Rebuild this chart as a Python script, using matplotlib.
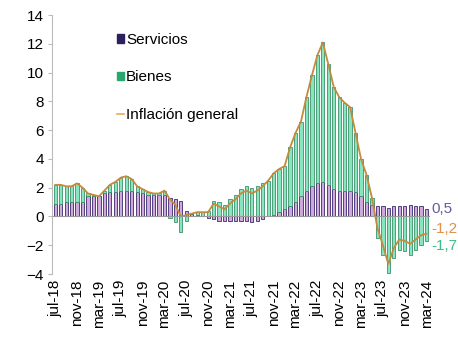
import numpy as np
import pandas as pd
import matplotlib
matplotlib.use('Agg')
import matplotlib.pyplot as plt
from matplotlib.patches import Patch
from matplotlib.lines import Line2D

plt.rcParams['font.family'] = ['Liberation Sans', 'DejaVu Sans']

# monthly, jul-18 .. mar-24
months = pd.date_range('2018-07-01', '2024-03-01', freq='MS')

general = [2.2, 2.2, 2.1, 2.1, 2.3, 2.0, 1.6, 1.5, 1.4, 1.8, 2.2, 2.4,
           2.7, 2.8, 2.6, 2.1, 1.9, 1.7, 1.6, 1.6, 1.8, 1.2, 0.8, 0.0,
           0.1, 0.2, 0.3, 0.3, 0.3, 0.9, 0.7, 0.5, 0.9, 1.2, 1.6, 1.8,
           1.6, 1.8, 2.1, 2.5, 3.0, 3.3, 3.5, 4.8, 5.8, 6.6, 8.3, 9.8,
           11.2, 12.1, 10.6, 9.0, 8.3, 7.9, 7.6, 5.8, 4.0, 2.9, 1.3, -0.8,
           -2.0, -3.3, -2.2, -1.6, -1.7, -1.9, -1.6, -1.3, -1.2]

servicios = [0.9, 0.9, 1.0, 1.0, 1.0, 1.0, 1.4, 1.4, 1.4, 1.6, 1.7, 1.7,
             1.8, 1.8, 1.8, 1.7, 1.6, 1.5, 1.5, 1.5, 1.5, 1.3, 1.2, 1.1,
             0.4, 0.2, 0.1, 0.0, -0.1, -0.2, -0.3, -0.3, -0.3, -0.3, -0.3, -0.3,
             -0.4, -0.3, -0.2, 0.0, 0.1, 0.3, 0.5, 0.7, 1.0, 1.4, 1.8, 2.1,
             2.3, 2.4, 2.2, 1.9, 1.8, 1.8, 1.8, 1.7, 1.4, 1.0, 0.8, 0.7,
             0.7, 0.6, 0.7, 0.7, 0.7, 0.8, 0.7, 0.7, 0.5]

tick_lab = ['jul-18', 'nov-18', 'mar-19', 'jul-19', 'nov-19', 'mar-20', 'jul-20',
            'nov-20', 'mar-21', 'jul-21', 'nov-21', 'mar-22', 'jul-22', 'nov-22',
            'mar-23', 'jul-23', 'nov-23', 'mar-24']

general = np.array(general)
servicios = np.array(servicios)
bienes = general - servicios

x = np.arange(len(months))

fig = plt.figure(figsize=(4.58, 3.5), dpi=100)
ax = fig.add_axes([0.1135, 0.217, 0.825, 0.74])

serv_face, serv_edge = '#cfa8de', '#3a2a6a'
bien_face, bien_edge = '#86e6bd', '#3f8f6a'

# stack positives upward and negatives downward, like Excel
bien_base = np.where((bienes >= 0) == (servicios >= 0), servicios, 0.0)

ax.bar(x, servicios, width=0.6, color=serv_face, edgecolor=serv_edge, linewidth=0.6)
ax.bar(x, bienes, width=0.6, bottom=bien_base, color=bien_face, edgecolor=bien_edge, linewidth=0.6)
ax.plot(x, general, color='#c48a3e', linewidth=1.3)

ax.axhline(0, color='#999999', linewidth=0.8)

ax.set_xlim(-0.6, len(x) - 0.4)
ax.set_ylim(-4, 14)
ax.set_yticks(range(-4, 15, 2))
ax.tick_params(axis='y', labelsize=11, length=3, color='#bbbbbb', pad=3)

ax.set_xticks(x[::4])
ax.set_xticklabels(tick_lab, rotation=90, fontsize=11)
ax.tick_params(axis='x', length=0, pad=4)

for s in ['top', 'right', 'bottom']:
    ax.spines[s].set_visible(False)
ax.spines['left'].set_color('#bbbbbb')

# end labels
ax.text(len(x) - 0.2, servicios[-1], '0,5', color='#6b5a9a', fontsize=11, va='center')
ax.text(len(x) - 0.2, general[-1] + 0.35, '-1,2', color='#e0904a', fontsize=11, va='center')
ax.text(len(x) - 0.2, bienes[-1] - 0.35, '-1,7', color='#3cbf85', fontsize=11, va='center')

handles = [Patch(facecolor='#2e2060', edgecolor='#2e2060'),
           Patch(facecolor='#2aa86c', edgecolor='#2aa86c'),
           Line2D([0], [0], color='#e8a860', linewidth=1.2)]
ax.legend(handles, ['Servicios', 'Bienes', 'Inflación general'], loc='upper left',
          bbox_to_anchor=(0.135, 0.985), frameon=False, fontsize=11,
          handlelength=0.5, handleheight=0.5, handletextpad=0.1, labelspacing=1.55)

fig.savefig('out.png', dpi=100)
